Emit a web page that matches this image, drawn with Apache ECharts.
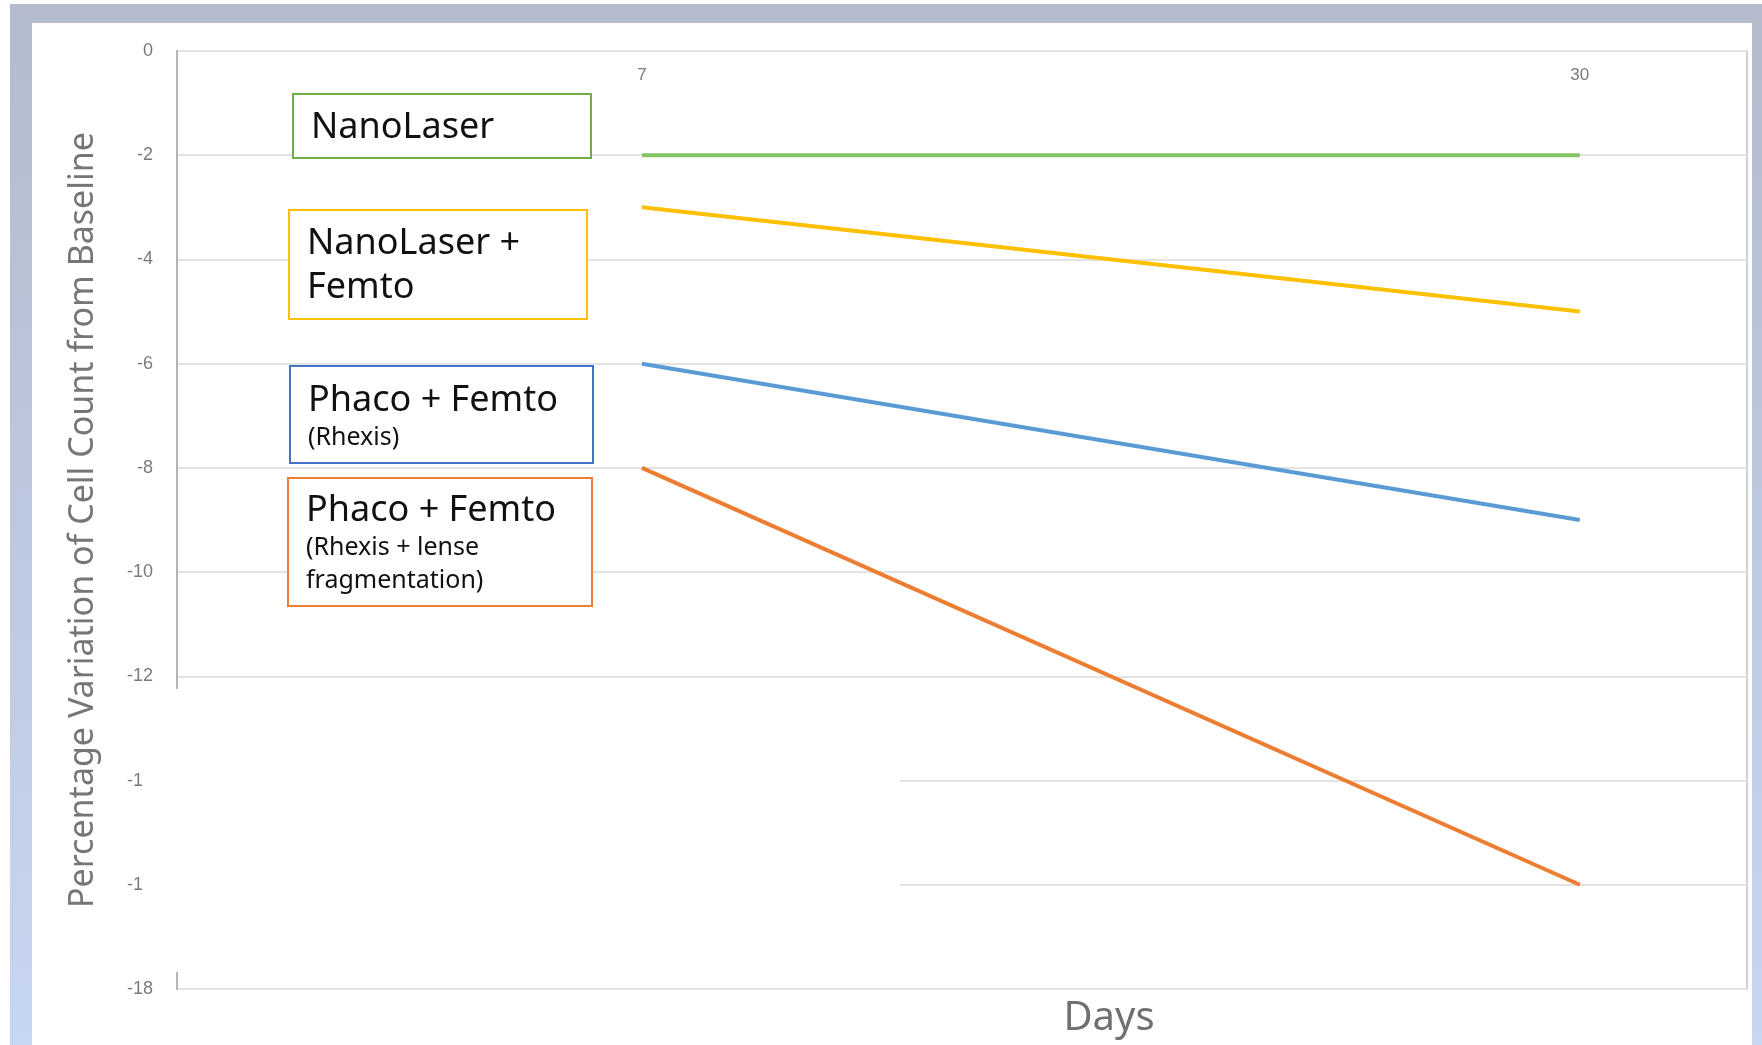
<!DOCTYPE html>
<html>
<head>
<meta charset="utf-8">
<script src="https://cdn.jsdelivr.net/npm/echarts@6/dist/echarts.min.js"></script>
<style>
  html, body { margin: 0; padding: 0; background: #fff; }
  #frame { position: absolute; left: 10px; top: 4px; width: 1752px; height: 1041px;
           background: linear-gradient(#b3bbcc, #c7d6f1); }
  #card { position: absolute; left: 32px; top: 23px; width: 1720px; height: 1022px; background: #fff; }
  #chart { position: absolute; left: 0; top: 0; width: 1762px; height: 1045px; }
</style>
</head>
<body>
<div id="frame"></div>
<div id="card"></div>
<div id="chart"></div>
<script>
// data
const days = [7, 30]
const nanoLaser = [-2, -2]
const nanoLaserFemto = [-3, -5]
const phacoRhexis = [-6, -9]
const phacoFragment = [-8, -16]

const chart = echarts.init(document.getElementById('chart'))

const pairs = (vals) => days.map((d, i) => [d, vals[i]])

// legend boxes (text annotations in the original)
const boxes = [
  { x: 293, y: 94, w: 298, h: 64, color: '#70ad47', lines: [['NanoLaser', 128, 36]] },
  { x: 289, y: 210, w: 298, h: 109, color: '#ffc000', lines: [['NanoLaser +', 244, 36], ['Femto', 288, 36]] },
  { x: 290, y: 366, w: 303, h: 97, color: '#4472c4', lines: [['Phaco + Femto', 401, 36], ['(Rhexis)', 438, 25]] },
  { x: 288, y: 478, w: 304, h: 128, color: '#ed7d31',
    lines: [['Phaco + Femto', 511, 36], ['(Rhexis + lense', 548, 25], ['fragmentation)', 581, 25]] }
]

const graphic = []
boxes.forEach((b) => {
  graphic.push({
    type: 'rect', z: 50,
    shape: { x: b.x, y: b.y, width: b.w, height: b.h },
    style: { fill: '#fff', stroke: b.color, lineWidth: 2 }
  })
  b.lines.forEach(([t, y, size]) => {
    graphic.push({
      type: 'text', z: 51, x: b.x + 18, y: y,
      style: { text: t, fontSize: size, fontFamily: 'Noto Sans', fill: '#111', textVerticalAlign: 'middle' }
    })
  })
})
// white patch that hides part of the lower axis in the original picture
graphic.push({
  type: 'rect', z: 40,
  shape: { x: 142, y: 689, width: 758, height: 283 },
  style: { fill: '#fff' }
})
graphic.push({
  type: 'text', z: 51, x: 1109, y: 1019,
  style: { text: 'Days', fontSize: 40, fontFamily: 'Noto Sans', fill: '#707070', textAlign: 'center', textVerticalAlign: 'middle' }
})

const option = {
  animation: false,
  grid: { left: 177, top: 51, right: 15, bottom: 56, show: true, borderColor: '#cfcfcf', borderWidth: 2 },
  xAxis: {
    type: 'value',
    position: 'top',
    min: -4.4,
    max: 34.1,
    axisLine: { show: false },
    axisTick: { show: false },
    splitLine: { show: false },
    axisLabel: {
      customValues: days,
      inside: true,
      margin: 16,
      fontSize: 17,
      color: '#7a7a7a'
    }
  },
  yAxis: {
    type: 'value',
    min: -18,
    max: 0,
    interval: 2,
    name: 'Percentage Variation of Cell Count from Baseline',
    nameLocation: 'middle',
    nameGap: 77,
    nameTextStyle: { fontSize: 34, color: '#767676', fontFamily: 'Noto Sans' },
    axisLine: { show: true, onZero: false, lineStyle: { color: '#b5b5b5', width: 2 } },
    axisTick: { show: false },
    axisLabel: { margin: 24, fontSize: 18, color: '#7a7a7a' },
    splitLine: { lineStyle: { color: '#e3e3e3', width: 2 } }
  },
  series: [
    { name: 'NanoLaser', type: 'line', data: pairs(nanoLaser), symbol: 'none', lineStyle: { color: '#85c464', width: 4 } },
    { name: 'NanoLaser + Femto', type: 'line', data: pairs(nanoLaserFemto), symbol: 'none', lineStyle: { color: '#ffc000', width: 4 } },
    { name: 'Phaco + Femto (Rhexis)', type: 'line', data: pairs(phacoRhexis), symbol: 'none', lineStyle: { color: '#5b9bd5', width: 4 } },
    { name: 'Phaco + Femto (Rhexis + lense fragmentation)', type: 'line', data: pairs(phacoFragment), symbol: 'none', lineStyle: { color: '#ed7d31', width: 4 } }
  ],
  graphic: graphic
}

chart.setOption(option)
</script>
</body>
</html>
